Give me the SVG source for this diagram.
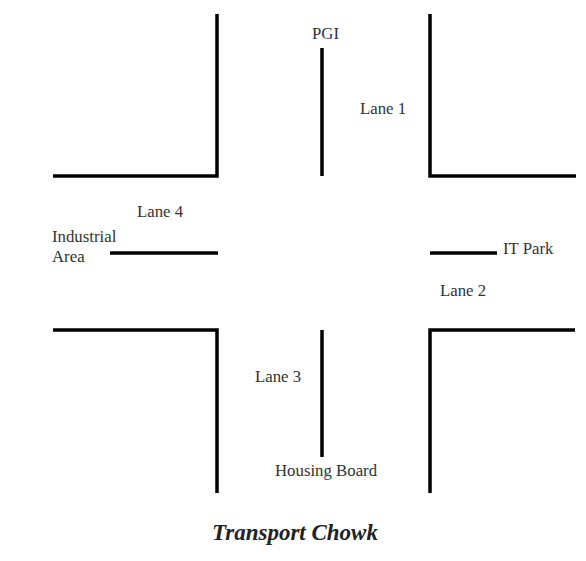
<svg xmlns="http://www.w3.org/2000/svg" width="586" height="561" viewBox="0 0 586 561">
<style>
.road{fill:none;stroke:#000;stroke-width:3.5;stroke-linejoin:miter;stroke-linecap:butt}
.lbl{font-family:"Liberation Serif","Times New Roman",serif;font-size:16.8px;fill:#333}
.title{font-family:"Liberation Serif","Times New Roman",serif;font-size:23px;font-weight:bold;font-style:italic;fill:#222}
</style>
<rect width="586" height="561" fill="#fff"/>
<g id="roads">
<polyline class="road" points="53,176 217,176 217,14"/>
<polyline class="road" points="430,14 430,176 576,176"/>
<polyline class="road" points="53,330 217,330 217,493"/>
<polyline class="road" points="430,493 430,330 575,330"/>
<line class="road" x1="322" y1="48" x2="322" y2="176"/>
<line class="road" x1="322" y1="330" x2="322" y2="457"/>
<line class="road" x1="110" y1="253" x2="218" y2="253"/>
<line class="road" x1="430" y1="253" x2="497" y2="253"/>
</g>
<g id="labels">
<text class="lbl" x="312" y="39">PGI</text>
<text class="lbl" x="360" y="114">Lane 1</text>
<text class="lbl" x="137" y="217">Lane 4</text>
<text class="lbl" x="52" y="242">Industrial</text>
<text class="lbl" x="52" y="262">Area</text>
<text class="lbl" x="503" y="254">IT Park</text>
<text class="lbl" x="440" y="296">Lane 2</text>
<text class="lbl" x="255" y="382">Lane 3</text>
<text class="lbl" x="275" y="476">Housing Board</text>
<text class="title" x="212" y="540">Transport Chowk</text>
</g>
</svg>
